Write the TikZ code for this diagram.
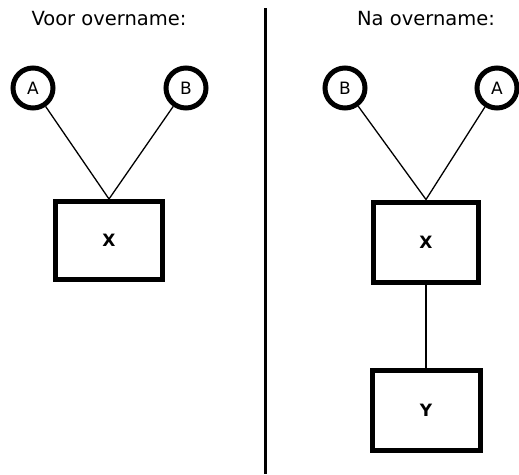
\documentclass[tikz,border=0pt]{standalone}
\usepackage{fontspec}
\setmainfont{DejaVu Sans}
\begin{document}
\begin{tikzpicture}[x=1pt,y=-1pt,
  owner/.style={circle,draw,line width=5pt,minimum size=40pt,inner sep=0pt,font=\fontsize{17}{20}\selectfont},
  firm/.style={rectangle,draw,line width=5pt,font=\bfseries\fontsize{17}{20}\selectfont},
  link/.style={line width=1.3pt},
  title/.style={font=\fontsize{19.5}{23}\selectfont}]
\useasboundingbox (0,0) rectangle (519,474);
% divider between the two situations
\draw[line width=3pt] (265,8) -- (265,474);
% before the takeover
\node[title] (t1) at (109,19) {Voor overname:};
\node[owner] (a1) at (33,88) {A};
\node[owner] (b1) at (186,88) {B};
\node[firm,minimum width=107pt,minimum height=78pt] (x1) at (109,240.5) {X};
\draw[link] (a1) -- (x1.north);
\draw[link] (b1) -- (x1.north);
% after the takeover
\node[title] (t2) at (426,19) {Na overname:};
\node[owner] (b2) at (345,88) {B};
\node[owner] (a2) at (497,88) {A};
\node[firm,minimum width=105pt,minimum height=80pt] (x2) at (426,242) {X};
\node[firm,minimum width=108pt,minimum height=80pt] (y2) at (426,410.5) {Y};
\draw[link] (b2) -- (x2.north);
\draw[link] (a2) -- (x2.north);
\draw[link] (x2) -- (y2);
\end{tikzpicture}
\end{document}
